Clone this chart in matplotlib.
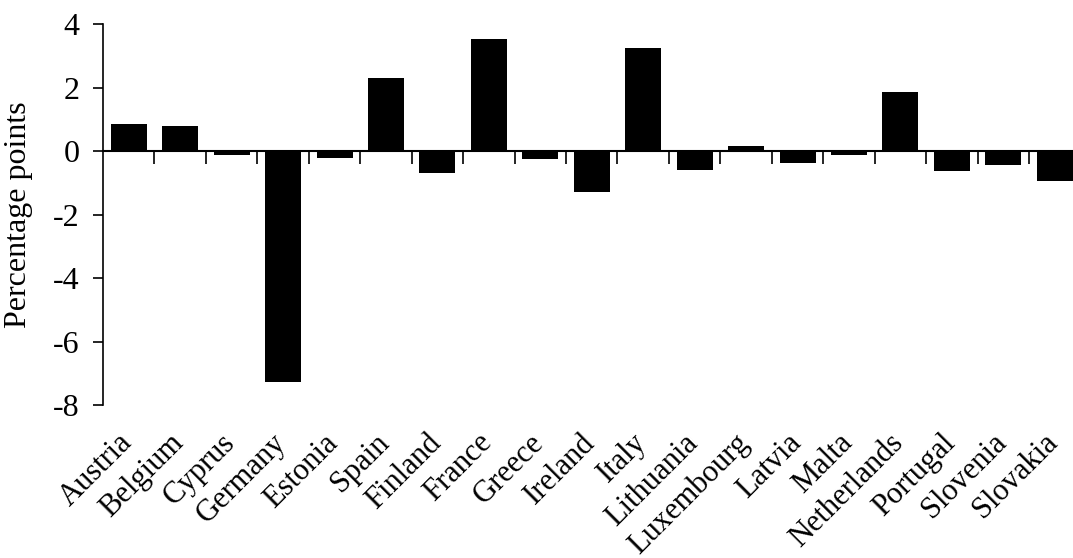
import numpy as np
import matplotlib.pyplot as plt
import matplotlib.transforms as mtransforms

countries = ['Austria', 'Belgium', 'Cyprus', 'Germany', 'Estonia', 'Spain', 'Finland',
             'France', 'Greece', 'Ireland', 'Italy', 'Lithuania', 'Luxembourg', 'Latvia',
             'Malta', 'Netherlands', 'Portugal', 'Slovenia', 'Slovakia']
values = [0.86, 0.81, -0.13, -7.26, -0.20, 2.30, -0.69, 3.55, -0.26, -1.28,
          3.25, -0.59, 0.16, -0.36, -0.11, 1.86, -0.62, -0.43, -0.95]
y_ticks = [-8, -6, -4, -2, 0, 2, 4]

plt.rcParams['font.family'] = ['Liberation Serif', 'DejaVu Serif']

fig = plt.figure(figsize=(10.73, 5.58), dpi=100)
ax = fig.add_axes([103 / 1073, 1 - 405 / 558, 977.5 / 1073, (405 - 24.3) / 558])

x = np.arange(len(countries))
ax.bar(x, values, width=0.7, color='black', zorder=2)

ax.set_xlim(-0.5, len(countries) - 0.5)
ax.set_ylim(-8, 4)
ax.set_yticks(y_ticks)
ax.set_yticklabels([str(v) for v in y_ticks], fontsize=23)
ax.tick_params(axis='y', direction='out', length=7, width=1.2, pad=10)

# zero line with the category boundary ticks hanging from it
ax.spines['bottom'].set_position(('data', 0))
ax.spines['bottom'].set_linewidth(1.5)
ax.spines['left'].set_linewidth(1.2)
ax.spines['top'].set_visible(False)
ax.spines['right'].set_visible(False)
ax.set_xticks(x[:-1] + 0.5)
ax.set_xticklabels([])
ax.tick_params(axis='x', direction='out', length=9, width=1.2)

trans = mtransforms.blended_transform_factory(ax.transData, ax.transAxes)
for xi, name in zip(x, countries):
    ax.text(xi - 0.02, -0.088, name, transform=trans, rotation=45, ha='right', va='center',
            rotation_mode='anchor', fontsize=22)

ax.set_ylabel('Percentage points', fontsize=23)
ax.yaxis.set_label_coords(-0.072, 0.5)

fig.savefig('out.png', dpi=100)
